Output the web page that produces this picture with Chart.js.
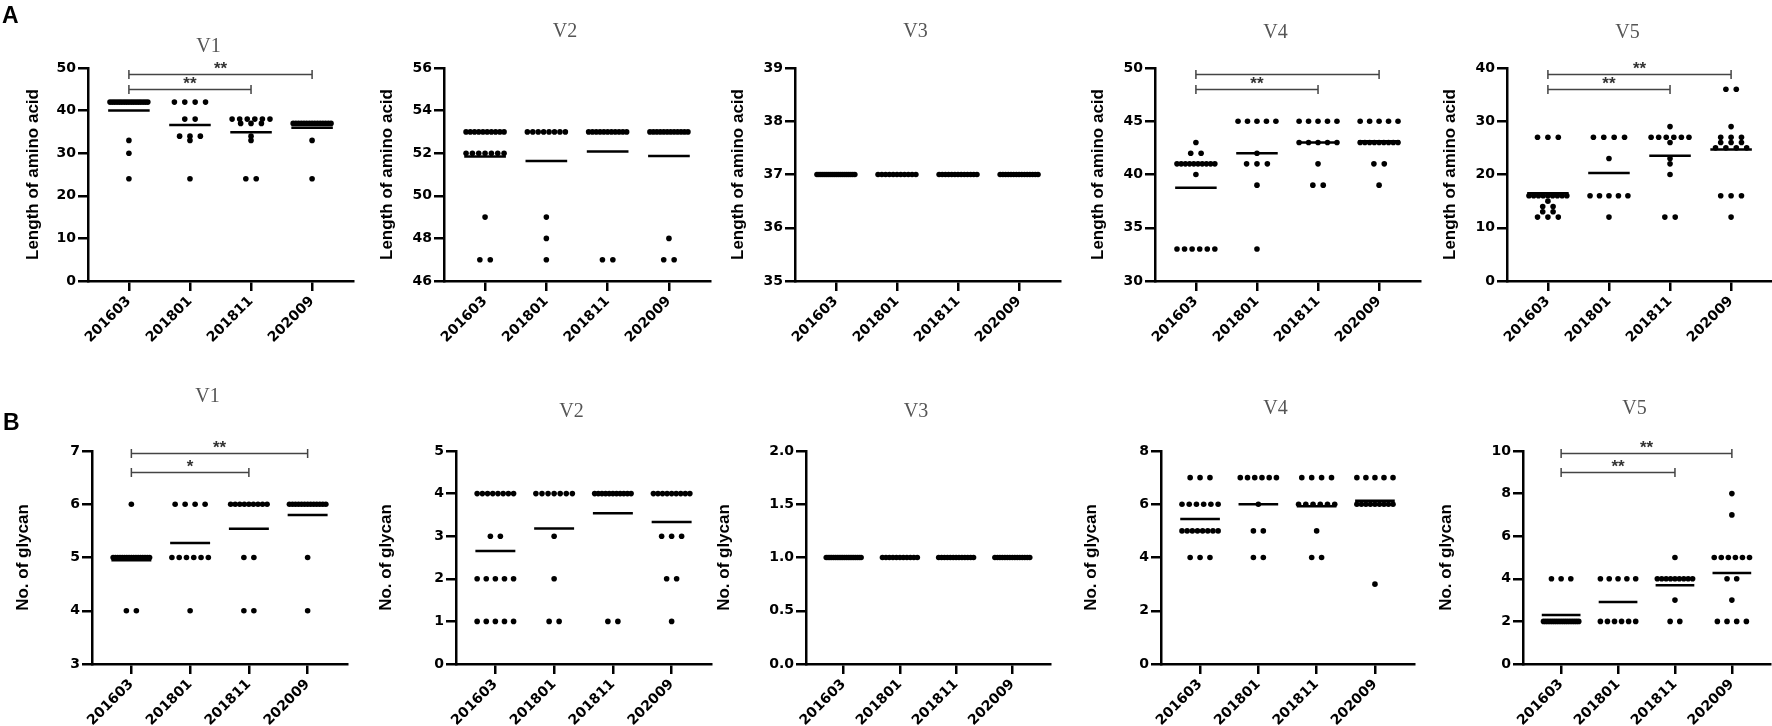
<!DOCTYPE html>
<html><head><meta charset="utf-8">
<script src="https://cdn.jsdelivr.net/npm/chart.js@4.4.0/dist/chart.umd.min.js"></script>
<style>
html,body{margin:0;padding:0;background:#fff;overflow:hidden;width:1772px;height:726px;position:relative}
canvas{position:absolute}
.lbl{position:absolute;font:bold 23px "Liberation Sans",Arial,sans-serif;color:#000;z-index:5}
</style></head><body>
<div class="lbl" style="left:2px;top:2px">A</div>
<div class="lbl" style="left:3px;top:409px">B</div>
<script>
// ---------- DATA ----------
const categories = ['201603','201801','201811','202009'];
const panelTitles = ['V1','V2','V3','V4','V5'];
const yTitleLen = 'Length of amino acid';
const yTitleGly = 'No. of glycan';

// Length of amino acid (panel A), one array per category
const lenV1 = [
  [42,42,42,42,42,42,42,42,42,42,42,42,42,42,42,42,42,33,30,24],
  [42,42,42,42,38,38,34,34,34,33,24],
  [38,38,38,38,38,38,37,37,37,34,33,24,24],
  [37,37,37,37,37,37,37,37,37,37,37,37,37,37,37,33,24]
];
const lenV2 = [
  [53,53,53,53,53,53,53,53,53,53,52,52,52,52,52,52,52,49,47,47],
  [53,53,53,53,53,53,53,53,49,48,47],
  [53,53,53,53,53,53,53,53,53,53,53,47,47],
  [53,53,53,53,53,53,53,53,53,53,53,53,48,47,47]
];
const lenV3 = [
  [37,37,37,37,37,37,37,37,37,37,37,37,37,37,37,37,37,37,37,37],
  [37,37,37,37,37,37,37,37,37,37,37],
  [37,37,37,37,37,37,37,37,37,37,37,37,37],
  [37,37,37,37,37,37,37,37,37,37,37,37,37,37,37]
];
const lenV4 = [
  [43,42,42,41,41,41,41,41,41,41,41,41,41,40,33,33,33,33,33,33],
  [45,45,45,45,45,42,41,41,41,39,33],
  [45,45,45,45,45,43,43,43,43,43,41,39,39],
  [45,45,45,45,45,43,43,43,43,43,43,43,43,43,41,41,39]
];
const lenV5 = [
  [27,27,27,16,16,16,16,16,16,16,16,16,15,14,14,13,13,12,12,12],
  [27,27,27,27,23,16,16,16,16,16,12],
  [29,27,27,27,27,27,27,26,23,22,20,12,12],
  [36,36,29,27,27,27,26,26,26,25,25,25,25,16,16,16,12]
];

// No. of glycan (panel B)
const glyV1 = [
  [6,5,5,5,5,5,5,5,5,5,5,5,5,5,5,5,5,5,4,4],
  [6,6,6,6,5,5,5,5,5,5,4],
  [6,6,6,6,6,6,6,6,6,5,5,4,4],
  [6,6,6,6,6,6,6,6,6,6,6,6,6,5,4]
];
const glyV2 = [
  [4,4,4,4,4,4,4,4,3,3,2,2,2,2,2,1,1,1,1,1],
  [4,4,4,4,4,4,4,3,2,1,1],
  [4,4,4,4,4,4,4,4,4,4,4,1,1],
  [4,4,4,4,4,4,4,4,4,3,3,3,2,2,1]
];
const glyV3 = [
  [1,1,1,1,1,1,1,1,1,1,1,1,1,1,1,1,1,1,1,1],
  [1,1,1,1,1,1,1,1,1,1,1],
  [1,1,1,1,1,1,1,1,1,1,1,1,1],
  [1,1,1,1,1,1,1,1,1,1,1,1,1,1,1]
];
const glyV4 = [
  [7,7,7,6,6,6,6,6,6,5,5,5,5,5,5,5,5,4,4,4],
  [7,7,7,7,7,7,6,5,5,4,4],
  [7,7,7,7,6,6,6,6,6,6,5,4,4],
  [7,7,7,7,7,6,6,6,6,6,6,6,6,6,3]
];
const glyV5 = [
  [4,4,4,2,2,2,2,2,2,2,2,2,2,2,2,2,2,2,2,2],
  [4,4,4,4,4,2,2,2,2,2,2],
  [5,4,4,4,4,4,4,4,4,4,3,2,2],
  [8,7,5,5,5,5,5,5,4,4,3,2,2,2,2]
];

// y axis ranges [min, max, step]
const yAxesLen = [[0,50,10],[46,56,2],[35,39,1],[30,50,5],[0,40,10]];
const yAxesGly = [[3,7,1],[0,5,1],[0,2,0.5],[0,8,2],[0,10,2]];

// significance comparisons [fromCategory, toCategory, label]
const sigLen = [[[0,3,'**'],[0,2,'**']], [], [], [[0,3,''],[0,2,'**']], [[0,3,'**'],[0,2,'**']]];
const sigGly = [[[0,3,'**'],[0,2,'*']], [], [], [], [[0,3,'**'],[0,2,'**']]];

// ---------- LAYOUT ----------
const rows = [
  {panels:[lenV1,lenV2,lenV3,lenV4,lenV5], yAxes:yAxesLen, sig:sigLen, yTitle:yTitleLen,
   canvasTop:0, canvasH:355, plotTop:68, plotBottom:281,
   axisX:[88,444,795,1155,1507], rightX:[353,710,1060,1420,1772],
   yTitleGap:[55,57,57,57,57], titleY:[47,32,32,33,33], bracketFrac:[0.97,0.9]},
  {panels:[glyV1,glyV2,glyV3,glyV4,glyV5], yAxes:yAxesGly, sig:sigGly, yTitle:yTitleGly,
   canvasTop:360, canvasH:366, plotTop:451, plotBottom:664,
   axisX:[92,456,806,1161,1523], rightX:[347,711,1050,1414,1770],
   yTitleGap:[69,70,82,70,77], titleY:[397,412,412,409,409], bracketFrac:[0.99,0.9]}
];
const Y_BOX = 100, PAD_R = 8;
const tickFont = {family:'"DejaVu Sans", sans-serif', size:14, weight:'bold'};

function swarm(vals, ci){
  const counts = {}; vals.forEach(v => counts[v] = (counts[v]||0) + 1);
  const seen = {};
  return vals.map(v => {
    const n = counts[v];
    const k = seen[v] = (seen[v] === undefined ? 0 : seen[v] + 1);
    const sp = n > 1 ? Math.min(0.17, 0.62/(n-1)) : 0;
    return {x: ci + (k - (n-1)/2)*sp, y: v};
  });
}
function mean(a){ return a.reduce((s,v)=>s+v,0)/a.length; }

rows.forEach(row => {
  row.panels.forEach((groups, p) => {
    const left = row.axisX[p] - Y_BOX;
    const width = row.rightX[p] - left + PAD_R;
    const cv = document.createElement('canvas');
    cv.width = width; cv.height = row.canvasH;
    cv.style.left = left + 'px'; cv.style.top = row.canvasTop + 'px';
    cv.style.width = width + 'px'; cv.style.height = row.canvasH + 'px';
    document.body.appendChild(cv);

    const datasets = [];
    groups.forEach((g, ci) => {
      const m = mean(g);
      datasets.push({data:[{x:ci-0.34,y:m},{x:ci+0.34,y:m}], showLine:true, pointRadius:0,
        borderColor:'#000', borderWidth:2.5, order:2});
    });
    groups.forEach((g, ci) => {
      datasets.push({data: swarm(g, ci), pointRadius:2.8, pointBackgroundColor:'#000',
        pointBorderWidth:0, borderColor:'#000', order:1});
    });
    const [ymin, ymax, ystep] = row.yAxes[p];
    const sig = row.sig[p];
    const titleTop = row.titleY[p] - row.canvasTop;

    const deco = {
      id:'deco'+p,
      afterDatasetsDraw(chart){
        const ctx = chart.ctx, ca = chart.chartArea;
        const xs = chart.scales.x;
        ctx.save();
        ctx.font = '20px "Liberation Serif", serif';
        ctx.fillStyle = '#555'; ctx.textAlign = 'center'; ctx.textBaseline = 'middle';
        ctx.fillText(panelTitles[p], (ca.left+ca.right)/2 - 12, titleTop);
        sig.forEach((s, i) => {
          const y = Math.round(ca.bottom - row.bracketFrac[i]*(ca.bottom-ca.top)) + 0.5;
          const x0 = xs.getPixelForValue(s[0]), x1 = xs.getPixelForValue(s[1]);
          ctx.strokeStyle = '#444'; ctx.lineWidth = 1.5;
          ctx.beginPath();
          ctx.moveTo(x0, y); ctx.lineTo(x1, y);
          ctx.moveTo(x0, y-4.5); ctx.lineTo(x0, y+4.5);
          ctx.moveTo(x1, y-4.5); ctx.lineTo(x1, y+4.5);
          ctx.stroke();
          if (s[2]) {
            ctx.font = 'bold 17px "Liberation Sans", Arial, sans-serif';
            ctx.fillStyle = '#333'; ctx.textBaseline = 'alphabetic';
            ctx.fillText(s[2], (x0+x1)/2, y - 1);
          }
        });
        ctx.restore();
      }
    };

    new Chart(cv, {
      type:'scatter',
      data:{datasets},
      options:{
        responsive:false, animation:false, devicePixelRatio:1, events:[],
        layout:{padding:{top: row.plotTop - row.canvasTop, left:0, right:PAD_R, bottom:0}},
        plugins:{legend:{display:false}, tooltip:{enabled:false}, title:{display:false}},
        scales:{
          x:{type:'linear', min:-0.67, max:3.67,
            afterBuildTicks(s){ s.ticks = [0,1,2,3].map(v => ({value:v})); },
            afterFit(s){ s.height = row.canvasH - (row.plotBottom - row.canvasTop); s.paddingLeft=0; s.paddingRight=0; s.paddingTop=0; s.paddingBottom=0; },
            ticks:{callback:(v)=>categories[v], minRotation:45, maxRotation:45, autoSkip:false,
              font:tickFont, color:'#000', padding:2},
            grid:{display:true, drawOnChartArea:false, drawTicks:true, tickLength:10, color:'#000', lineWidth:2.5},
            border:{display:true, color:'#000', width:2.5}
          },
          y:{min:ymin, max:ymax,
            afterFit(s){ s.width = Y_BOX; s.paddingLeft=0; s.paddingRight=0; s.paddingTop=0; s.paddingBottom=0; },
            ticks:{stepSize:ystep, font:tickFont, color:'#000', padding:2,
              callback:(v)=> ystep < 1 ? Number(v).toFixed(1) : String(v)},
            grid:{display:true, drawOnChartArea:false, drawTicks:true, tickLength:10, color:'#000', lineWidth:2.5},
            border:{display:true, color:'#000', width:2.5},
            title:{display:true, text:row.yTitle, color:'#000',
              font:{family:'"Liberation Sans", Arial, sans-serif', size:17, weight:'bold'},
              padding:{top: Y_BOX - row.yTitleGap[p] - 10.2, bottom:0}}
          }
        }
      },
      plugins:[deco]
    });
  });
});
</script>
</body></html>
